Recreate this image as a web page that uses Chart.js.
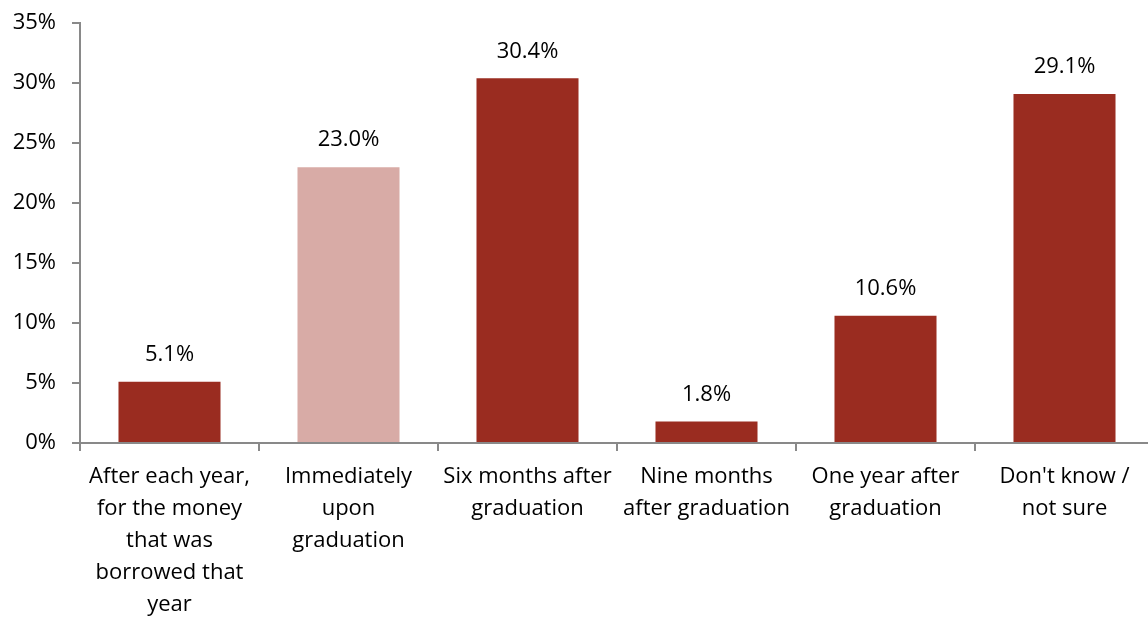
<!DOCTYPE html>
<html>
<head>
<meta charset="utf-8">
<script src="https://cdn.jsdelivr.net/npm/chart.js@4"></script>
<style>
  body { margin: 0; background: #fff; overflow: hidden; }
  #wrap { width: 1156px; height: 626px; margin-top: -6px; }
</style>
</head>
<body>
<div id="wrap"><canvas id="repayChart"></canvas></div>
<script>
// categories (multi-line labels as shown)
const categories = [
    ['After each year,', 'for the money', 'that was', 'borrowed that', 'year'],
    ['Immediately', 'upon', 'graduation'],
    ['Six months after', 'graduation'],
    ['Nine months', 'after graduation'],
    ['One year after', 'graduation'],
    ["Don't know /", 'not sure']
];
const shares = [5.1, 23.0, 30.4, 1.8, 10.6, 29.1];
const barColors = ['#9a2c20', '#d8aba6', '#9a2c20', '#9a2c20', '#9a2c20', '#9a2c20'];
const yTicks = [0, 5, 10, 15, 20, 25, 30, 35];

const fontFamily = "'Open Sans', 'DejaVu Sans', sans-serif";
const fontSize = 22;
const axisGray = '#898989';

// value labels above bars
const barLabels = {
    id: 'barLabels',
    afterDatasetsDraw(chart) {
        const ctx = chart.ctx;
        const meta = chart.getDatasetMeta(0);
        ctx.save();
        ctx.font = fontSize + 'px ' + fontFamily;
        ctx.fillStyle = '#000';
        ctx.textAlign = 'center';
        ctx.textBaseline = 'middle';
        meta.data.forEach((bar, i) => {
            ctx.fillText(shares[i].toFixed(1) + '%', bar.x, bar.y - 27);
        });
        ctx.restore();
    }
};

var ctx = document.getElementById('repayChart');
var chart = new Chart(ctx, {
    type: 'bar',
    data: {
        labels: categories,
        datasets: [
            {
                data: shares,
                backgroundColor: barColors,
                borderWidth: 0,
                barPercentage: 0.57,
                categoryPercentage: 1.0
            }
        ]
    },
    options: {
        responsive: true,
        maintainAspectRatio: false,
        animation: false,
        layout: { padding: { top: 17, right: 2, left: 0, bottom: 0 } },
        plugins: {
            legend: { display: false },
            tooltip: { enabled: false }
        },
        scales: {
            x: {
                offset: true,
                grid: {
                    offset: true,
                    drawOnChartArea: false,
                    drawTicks: true,
                    tickLength: 8,
                    color: axisGray,
                    lineWidth: 2
                },
                border: { color: axisGray, width: 2 },
                ticks: {
                    color: '#000',
                    font: { family: fontFamily, size: fontSize, lineHeight: 1.455 },
                    padding: 10,
                    maxRotation: 0,
                    autoSkip: false
                },
                afterFit: s => { s.height = 177; }
            },
            y: {
                min: 0,
                max: 35,
                afterBuildTicks: s => { s.ticks = yTicks.map(v => ({ value: v })); },
                grid: {
                    drawOnChartArea: false,
                    drawTicks: true,
                    tickLength: 8,
                    color: axisGray,
                    lineWidth: 2
                },
                border: { color: axisGray, width: 2 },
                ticks: {
                    color: '#000',
                    font: { family: fontFamily, size: fontSize },
                    padding: 16,
                    callback: v => v + '%'
                },
                afterFit: s => { s.width = 80; }
            }
        }
    },
    plugins: [barLabels]
});
</script>
</body>
</html>
